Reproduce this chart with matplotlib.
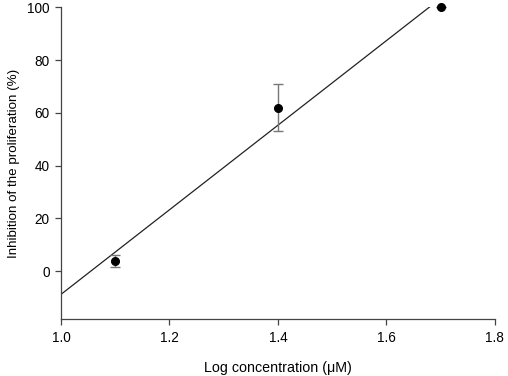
import numpy as np
import matplotlib
matplotlib.use("Agg")
import matplotlib.pyplot as plt

plt.rcParams['font.family'] = ['Liberation Sans', 'DejaVu Sans']

log_conc = [1.1, 1.4, 1.7]
inhibition = [3.8, 62.0, 100.0]
err = [2.3, 9.0, 0.0]

xticks = [1.0, 1.2, 1.4, 1.6, 1.8]
yticks = [0, 20, 40, 60, 80, 100]

fig = plt.figure(figsize=(5.08, 3.76), dpi=100)
ax = fig.add_axes([0.120, 0.1516, 0.854, 0.829])

# linear regression line
slope, intercept = np.polyfit(log_conc, inhibition, 1)
xl = np.array([1.0, 1.8])
ax.plot(xl, slope * xl + intercept, color="#222222", linewidth=0.9)

ax.errorbar(log_conc, inhibition, yerr=err, fmt="o", color="black",
            markersize=5.5, ecolor="#777777", elinewidth=1.0, capsize=3.5,
            capthick=1.0, clip_on=False, zorder=3)

ax.set_xlim(1.0, 1.8)
ax.set_ylim(-18.2, 100)
ax.set_xticks(xticks)
ax.set_xticklabels(["%.1f" % v for v in xticks])
ax.set_yticks(yticks)

for s in ["top", "right"]:
    ax.spines[s].set_visible(False)
for s in ["left", "bottom"]:
    ax.spines[s].set_color("#444444")
    ax.spines[s].set_linewidth(0.9)
ax.tick_params(direction="out", length=4, width=0.9, color="#444444",
               labelsize=9.8, pad=5)
ax.tick_params(axis="y", pad=4)

ax.set_xlabel("Log concentration (\u03bcM)", fontsize=10.3, labelpad=11)
ax.set_ylabel("Inhibition of the proliferation (%)", fontsize=9.6, labelpad=5)

fig.savefig("out.png", dpi=100)
